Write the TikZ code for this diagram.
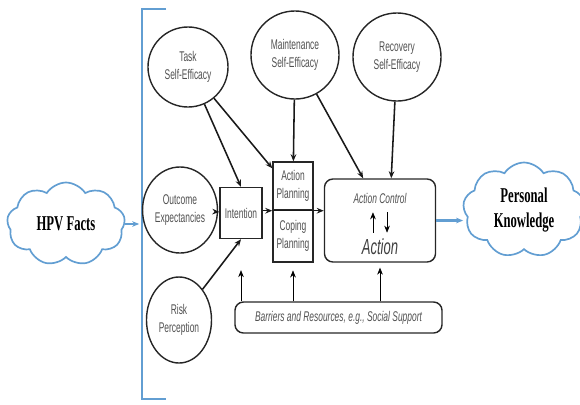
\documentclass[tikz,border=0pt]{standalone}
\usepackage{fontspec}
\setmainfont{Liberation Serif}
\newfontfamily\diagfont[FakeStretch=0.6]{Liberation Sans}
\newfontfamily\cloudfont[FakeStretch=0.6]{Liberation Serif}
\usepackage{tikz}
\usetikzlibrary{arrows.meta,calc,positioning,shapes.geometric,shapes.symbols}
\definecolor{hpvblue}{RGB}{98,158,210}
\definecolor{txtgray}{RGB}{80,80,80}

\begin{document}
\begin{tikzpicture}[x=0.025cm,y=-0.025cm,
    >={Stealth[length=5pt,width=4pt]},
    factor/.style={circle,draw=black!85,line width=1pt,text=txtgray,align=center,
      font=\diagfont\fontsize{10}{12.7}\selectfont,inner sep=1pt},
    oval/.style={factor,ellipse,minimum width=1.625cm,minimum height=2.15cm},
    stage/.style={rectangle,draw=black!85,line width=1pt,text=txtgray,align=center,
      font=\diagfont\fontsize{10}{12.7}\selectfont,inner sep=1pt},
    cloudbox/.style={cloud,cloud puffs=9,cloud puff arc=115,aspect=1.4,draw=hpvblue,
      line width=1.2pt,align=center,font=\cloudfont\bfseries\fontsize{15}{17.7}\selectfont},
    link/.style={->,line width=1.1pt,black!90},
    feed/.style={->,thin,black}]
    \useasboundingbox (0,0) rectangle (580,404);

    % Bracket round the model
    \coordinate (brtop) at (142,9);
    \coordinate (brbot) at (142,399);
    \draw[hpvblue,line width=1.4pt] (166,9) -- (brtop) -- (brbot) -- (166,399);

    % Clouds
    \node[cloudbox,minimum width=2.95cm,minimum height=2.075cm] (hpv) at (66,224) {\raisebox{-3pt}{HPV Facts}};
    \node[cloudbox,minimum width=3.05cm,minimum height=2.375cm] (pk) at (524,210) {Personal\\Knowledge};

    % Self-efficacy circles
    \node[factor,minimum size=2cm] (task) at (188,67) {Task\\Self-Efficacy};
    \node[factor,minimum size=2.2cm] (maint) at (295,55) {Maintenance\\Self-Efficacy};
    \node[factor,minimum size=2.2cm] (recov) at (397,57) {Recovery\\Self-Efficacy};

    % Other factors
    \node[oval] (outcome) at (180,210) {Outcome\\Expectancies};
    \node[oval] (risk) at (179,320) {Risk\\Perception};

    % Intention and planning
    \node[stage,minimum width=1.05cm,minimum height=1.275cm] (intention) at (241,213) {Intention};
    \node[stage,minimum width=1cm,minimum height=1.2cm] (aplan) at (293,186) {Action\\Planning};
    \node[stage,minimum width=1cm,minimum height=1.3cm,below=-1pt of aplan] (cplan) {Coping\\Planning};

    % Action control box
    \node[rectangle,rounded corners=6pt,draw=black!85,line width=1pt,
      minimum width=2.775cm,minimum height=2.075cm] (ac) at (380,220.5) {};
    \node[text=txtgray,font=\diagfont\itshape\fontsize{10}{12}\selectfont,inner ysep=6.3pt] (acctl) at (380,198) {Action Control};
    \node[text=black!75,font=\diagfont\itshape\fontsize{15.5}{18}\selectfont,inner ysep=4.3pt] (act) at (380,247) {Action};
    \draw[->,thin] ([xshift=-5pt]act.north) -- ([xshift=-5pt]acctl.south);
    \draw[->,thin] ([xshift=5pt]acctl.south) -- ([xshift=5pt]act.north);

    % Barriers
    \node[rectangle,rounded corners=6pt,draw=black!85,line width=1pt,text=txtgray,
      font=\diagfont\itshape\fontsize{10}{12}\selectfont,
      minimum width=5.175cm,minimum height=0.775cm] (barriers) at (338.5,317.5)
      {Barriers and Resources, e.g., Social Support};

    % Links between factors
    \draw[link] (task) -- (intention.north);
    \draw[link] (task) -- ([yshift=-5pt]aplan.north west);
    \draw[link] (maint) -- (aplan);
    \draw[link] (maint) -- ($(ac.north west)!0.35!(ac.north east)$);
    \draw[link] (recov) -- ($(ac.north west)!0.6!(ac.north east)$);
    \draw[link] (outcome) -- (intention);
    \draw[link] (risk) -- (intention.south);
    \draw[link] (intention.east |- aplan.south west) -- (aplan.south west);
    \draw[link] (aplan.south west) -- (aplan.south west -| ac.west);

    % Barriers feeding upward
    \draw[feed,shorten >=22pt] (barriers.north -| intention.south) -- (intention.south);
    \draw[feed,shorten >=5.5pt] (barriers.north -| cplan.south) -- (cplan.south);
    \draw[feed,shorten >=3.5pt] (barriers.north -| ac.south) -- (ac.south);

    % Knowledge flow
    \draw[->,hpvblue,line width=1.6pt,shorten >=2pt] (hpv.east) -- (hpv.east -| brtop);
    \draw[->,hpvblue,line width=1.6pt] (ac.east) -- (pk.west |- ac.east);
\end{tikzpicture}
\end{document}
